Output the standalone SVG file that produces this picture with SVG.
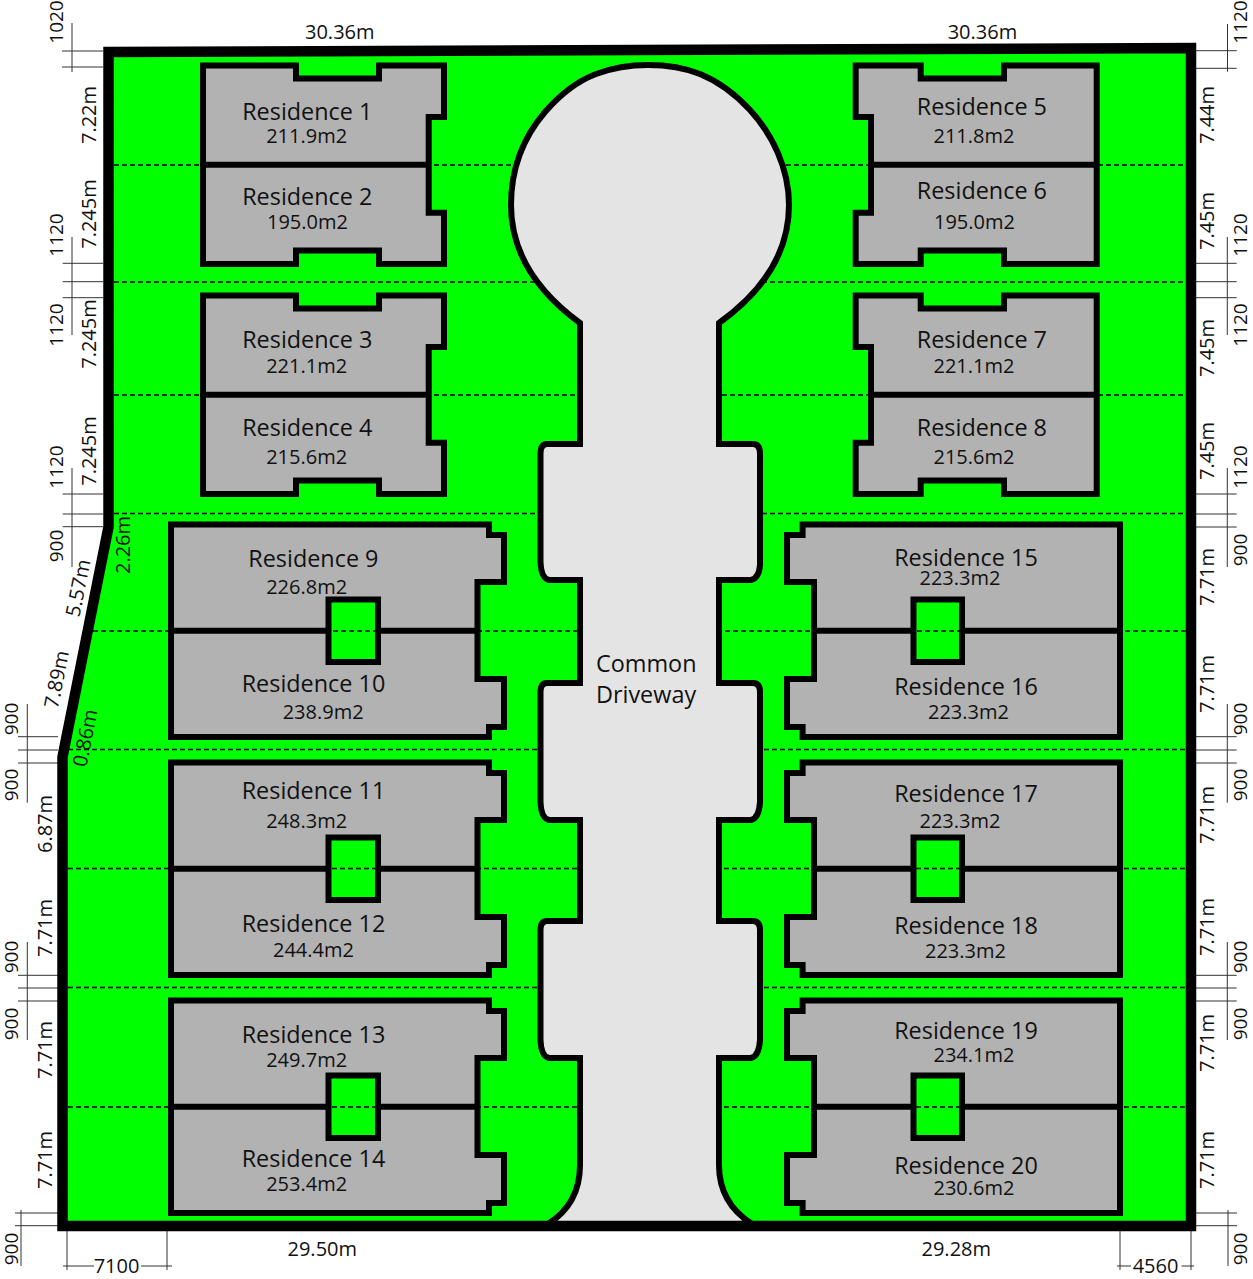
<svg xmlns="http://www.w3.org/2000/svg" xmlns:xlink="http://www.w3.org/1999/xlink" width="1253" height="1279" viewBox="0 0 1253 1279">
<style>
text{font-family:"Open Sans","Noto Sans","Liberation Sans",sans-serif;fill:#111}
.r{font-size:23.4px}
.a,.d{font-size:20px}
.n{font-size:19px}
.m{text-anchor:middle}
.b{fill:#b2b2b2;stroke:#000;stroke-width:6}
.c{fill:#00ff00;stroke:#000;stroke-width:6}
.w{fill:none;stroke:#000;stroke-width:6}
.dash{fill:none;stroke:#000;stroke-width:1.3;stroke-dasharray:5 3}
.dim{fill:none;stroke:#333;stroke-width:1}
</style>
<defs>
<g id="block-tl">
<path class="b" d="M203,65.5H296V78.5H379V65.5H444V117H428.7V212.7H444V264H379V250.5H296V264H203Z"/>
<path class="w" d="M203,164.7H428.7"/>
</g>
<g id="block-tr">
<path class="b" d="M855.7,65.5H920.7V78.5H1004V65.5H1096.7V264H1004V250.5H920.7V264H855.7V212.7H871V117H855.7Z"/>
<path class="w" d="M871,164.7H1096.7"/>
</g>
<g id="block-l">
<path class="b" d="M171,524.5H489V535H504V582H477.5V679H504V727H489V737H171Z"/>
<path class="w" d="M171,630.7H477.5"/>
<rect class="c" x="328.5" y="599.5" width="49.5" height="62.5"/>
</g>
<g id="block-r">
<path class="b" d="M802.6,524.5H1120V737H802.6V727H787V679H814V582H787V535H802.6Z"/>
<path class="w" d="M814,630.7H1120"/>
<rect class="c" x="913.5" y="599.5" width="48.5" height="62.5"/>
</g>
</defs>

<g id="site"><polygon fill="#00ff00" points="108.5,52 1191,48 1191,1226 62.5,1226 62.5,757 108.5,527"/></g>

<g id="blocks">
<g id="block-1-2"><use xlink:href="#block-tl" href="#block-tl"/></g>
<g id="block-3-4"><use xlink:href="#block-tl" href="#block-tl" transform="translate(0,230)"/></g>
<g id="block-5-6"><use xlink:href="#block-tr" href="#block-tr"/></g>
<g id="block-7-8"><use xlink:href="#block-tr" href="#block-tr" transform="translate(0,230)"/></g>
<g id="block-9-10"><use xlink:href="#block-l" href="#block-l"/></g>
<g id="block-11-12"><use xlink:href="#block-l" href="#block-l" transform="translate(0,238)"/></g>
<g id="block-13-14"><use xlink:href="#block-l" href="#block-l" transform="translate(0,476)"/></g>
<g id="block-15-16"><use xlink:href="#block-r" href="#block-r"/></g>
<g id="block-17-18"><use xlink:href="#block-r" href="#block-r" transform="translate(0,238)"/></g>
<g id="block-19-20"><use xlink:href="#block-r" href="#block-r" transform="translate(0,476)"/></g>
</g>

<g id="connectors">
<g id="lot-lines">
<path class="dash" d="M114,165H1186M114,282H1186M114,395H1186M114,513.5H1186M93,631H1186M68,749.5H1186M68,868.5H1186M68,987.5H1186M68,1107H1186"/>
</g>
<g id="dimension-lines">
<path class="dim" d="M72,23V72M62,51H103M62,67H103"/>
<path class="dim" d="M72,237V335M62.7,263.3H103M62.7,281.7H103M62.7,297.7H103"/>
<path class="dim" d="M72,468V567M62.7,494H103M62.7,514H103M62.7,526.7H103"/>
<path class="dim" d="M27.3,704V802.7M18,736.7H58M18,750H58M18,763H58"/>
<path class="dim" d="M27.3,942V1040M18,975.3H58M18,988H58M18,1001H58"/>
<path class="dim" d="M21,1210V1266M15,1213H58M15,1225.7H58"/>
<path class="dim" d="M1227.5,24V71.7M1196,50.7H1236.7M1196,68.3H1236.7"/>
<path class="dim" d="M1227.3,237V335M1196,263.3H1236.7M1196,281.7H1236.7M1196,297.7H1236.7"/>
<path class="dim" d="M1227.3,468V567M1196,494H1236.7M1196,514H1236.7M1196,527H1236.7"/>
<path class="dim" d="M1227.3,704V802.7M1196,736.7H1236.7M1196,750H1236.7M1196,763H1236.7"/>
<path class="dim" d="M1227.3,942V1040M1196,975.3H1236.7M1196,988H1236.7M1196,1001H1236.7"/>
<path class="dim" d="M1228,1210V1266M1196,1213H1237M1196,1225.7H1237"/>
<path class="dim" d="M67,1230V1270M167,1230V1270M63,1266H94M141,1266H172"/>
<path class="dim" d="M1120,1230V1270M1191,1230V1270M1117,1266H1131M1181.5,1266H1194"/>
</g>
</g>

<g id="common-driveway">
<path fill="#e4e4e4" stroke="#000" stroke-width="6" d="M548,1224C570,1210 580,1190 580,1165V1058H549Q541,1056 540.5,1040V930Q540.5,921 547,921H580V820H549Q541,818 540.5,802V692Q540.5,683 547,683H580V580H549Q541,578 540.5,562V454Q540.5,444 547,444H580V323C535,290 511,250 511,205C511,163 527,133 545,112C558,97 575,82 596,74C612,68 630,65 648,65C668,65 685,68 700,74C722,83 737,96 750,110C772,134 789,168 789,205C789,250 765,290 719,323V444H753Q760,444 760,454V565Q759,578 751,580H719V683H753Q760,683 760,692V802Q759,818 751,820H719V921H753Q760,921 760,930V1040Q759,1056 751,1058H719V1165C719,1190 730,1210 752,1224Z"/>
<text class="r" x="596" y="672">Common</text>
<text class="r" x="596" y="703">Driveway</text>
</g>

<g id="boundary"><polygon fill="none" stroke="#000" stroke-width="10.5" points="108.5,52 1191,48 1191,1226 62.5,1226 62.5,757 108.5,527"/></g>

<g id="residence-1"><text class="r" x="242.2" y="120">Residence 1</text><text class="a" x="266.2" y="143">211.9m2</text></g>
<g id="residence-2"><text class="r" x="242.2" y="205">Residence 2</text><text class="a" x="267" y="229">195.0m2</text></g>
<g id="residence-3"><text class="r" x="242.2" y="348">Residence 3</text><text class="a" x="266.2" y="373">221.1m2</text></g>
<g id="residence-4"><text class="r" x="242.2" y="436">Residence 4</text><text class="a" x="266.2" y="464">215.6m2</text></g>
<g id="residence-5"><text class="r" x="916.8" y="115">Residence 5</text><text class="a" x="933.5" y="143">211.8m2</text></g>
<g id="residence-6"><text class="r" x="916.8" y="199.3">Residence 6</text><text class="a" x="934" y="229">195.0m2</text></g>
<g id="residence-7"><text class="r" x="916.8" y="348">Residence 7</text><text class="a" x="933.5" y="373">221.1m2</text></g>
<g id="residence-8"><text class="r" x="916.8" y="436">Residence 8</text><text class="a" x="933.5" y="464">215.6m2</text></g>
<g id="residence-9"><text class="r" x="248.3" y="566.7">Residence 9</text><text class="a" x="266.2" y="594">226.8m2</text></g>
<g id="residence-10"><text class="r" x="241.7" y="691.7">Residence 10</text><text class="a" x="282.7" y="719">238.9m2</text></g>
<g id="residence-11"><text class="r" x="241.7" y="799">Residence 11</text><text class="a" x="266.2" y="828">248.3m2</text></g>
<g id="residence-12"><text class="r" x="241.7" y="932">Residence 12</text><text class="a" x="273" y="957">244.4m2</text></g>
<g id="residence-13"><text class="r" x="241.7" y="1043.3">Residence 13</text><text class="a" x="266.2" y="1066.7">249.7m2</text></g>
<g id="residence-14"><text class="r" x="241.7" y="1166.7">Residence 14</text><text class="a" x="266.2" y="1191">253.4m2</text></g>
<g id="residence-15"><text class="r" x="894.2" y="565.7">Residence 15</text><text class="a" x="919.5" y="585">223.3m2</text></g>
<g id="residence-16"><text class="r" x="894.2" y="695">Residence 16</text><text class="a" x="928" y="719">223.3m2</text></g>
<g id="residence-17"><text class="r" x="894.2" y="802">Residence 17</text><text class="a" x="919.5" y="828">223.3m2</text></g>
<g id="residence-18"><text class="r" x="894.2" y="934">Residence 18</text><text class="a" x="925" y="958">223.3m2</text></g>
<g id="residence-19"><text class="r" x="894.2" y="1039.3">Residence 19</text><text class="a" x="933.5" y="1062">234.1m2</text></g>
<g id="residence-20"><text class="r" x="894.2" y="1174">Residence 20</text><text class="a" x="933.5" y="1195">230.6m2</text></g>

<g id="dimension-labels">
<text class="d" x="305" y="38.7">30.36m</text>
<text class="d" x="947.7" y="38.7">30.36m</text>
<text class="d" x="287.5" y="1256">29.50m</text>
<text class="d" x="921.5" y="1256">29.28m</text>
<text class="d m" x="116.5" y="1273">7100</text>
<text class="d m" x="1155.5" y="1273">4560</text>

<text class="d n m" transform="translate(63,22) rotate(-90)">1020</text>
<text class="d m" transform="translate(95.5,115) rotate(-90)">7.22m</text>
<text class="d m" transform="translate(95.5,214) rotate(-90)">7.245m</text>
<text class="d n m" transform="translate(63,235) rotate(-90)">1120</text>
<text class="d n m" transform="translate(63,325) rotate(-90)">1120</text>
<text class="d m" transform="translate(95.5,334) rotate(-90)">7.245m</text>
<text class="d m" transform="translate(95.5,451) rotate(-90)">7.245m</text>
<text class="d n m" transform="translate(63,467) rotate(-90)">1120</text>
<text class="d n m" transform="translate(63,546) rotate(-90)">900</text>
<text class="d m" transform="translate(130,545) rotate(-90)">2.26m</text>
<text class="d m" transform="translate(85,589.4) rotate(-78.7)">5.57m</text>
<text class="d m" transform="translate(63.5,680.7) rotate(-78.7)">7.89m</text>
<text class="d m" transform="translate(92,739.4) rotate(-78.7)">0.86m</text>
<text class="d m" transform="translate(51.5,824) rotate(-90)">6.87m</text>
<text class="d m" transform="translate(51.5,928) rotate(-90)">7.71m</text>
<text class="d m" transform="translate(51.5,1050) rotate(-90)">7.71m</text>
<text class="d m" transform="translate(51.5,1160) rotate(-90)">7.71m</text>
<text class="d n m" transform="translate(18,719) rotate(-90)">900</text>
<text class="d n m" transform="translate(18,785) rotate(-90)">900</text>
<text class="d n m" transform="translate(18,957) rotate(-90)">900</text>
<text class="d n m" transform="translate(18,1024) rotate(-90)">900</text>
<text class="d n m" transform="translate(18,1249) rotate(-90)">900</text>

<text class="d n m" transform="translate(1246.7,22) rotate(-90)">1120</text>
<text class="d m" transform="translate(1214,115) rotate(-90)">7.44m</text>
<text class="d m" transform="translate(1214,221) rotate(-90)">7.45m</text>
<text class="d n m" transform="translate(1246.7,235) rotate(-90)">1120</text>
<text class="d n m" transform="translate(1246.7,325) rotate(-90)">1120</text>
<text class="d m" transform="translate(1214,348) rotate(-90)">7.45m</text>
<text class="d m" transform="translate(1214,451) rotate(-90)">7.45m</text>
<text class="d n m" transform="translate(1246.7,467) rotate(-90)">1120</text>
<text class="d n m" transform="translate(1246.7,550) rotate(-90)">900</text>
<text class="d m" transform="translate(1214,577) rotate(-90)">7.71m</text>
<text class="d m" transform="translate(1214,684) rotate(-90)">7.71m</text>
<text class="d n m" transform="translate(1246.7,719) rotate(-90)">900</text>
<text class="d n m" transform="translate(1246.7,785) rotate(-90)">900</text>
<text class="d m" transform="translate(1214,815) rotate(-90)">7.71m</text>
<text class="d m" transform="translate(1214,927) rotate(-90)">7.71m</text>
<text class="d n m" transform="translate(1246.7,957) rotate(-90)">900</text>
<text class="d n m" transform="translate(1246.7,1024) rotate(-90)">900</text>
<text class="d m" transform="translate(1214,1043) rotate(-90)">7.71m</text>
<text class="d m" transform="translate(1214,1160) rotate(-90)">7.71m</text>
<text class="d n m" transform="translate(1246.7,1249) rotate(-90)">900</text>
</g>
</svg>
